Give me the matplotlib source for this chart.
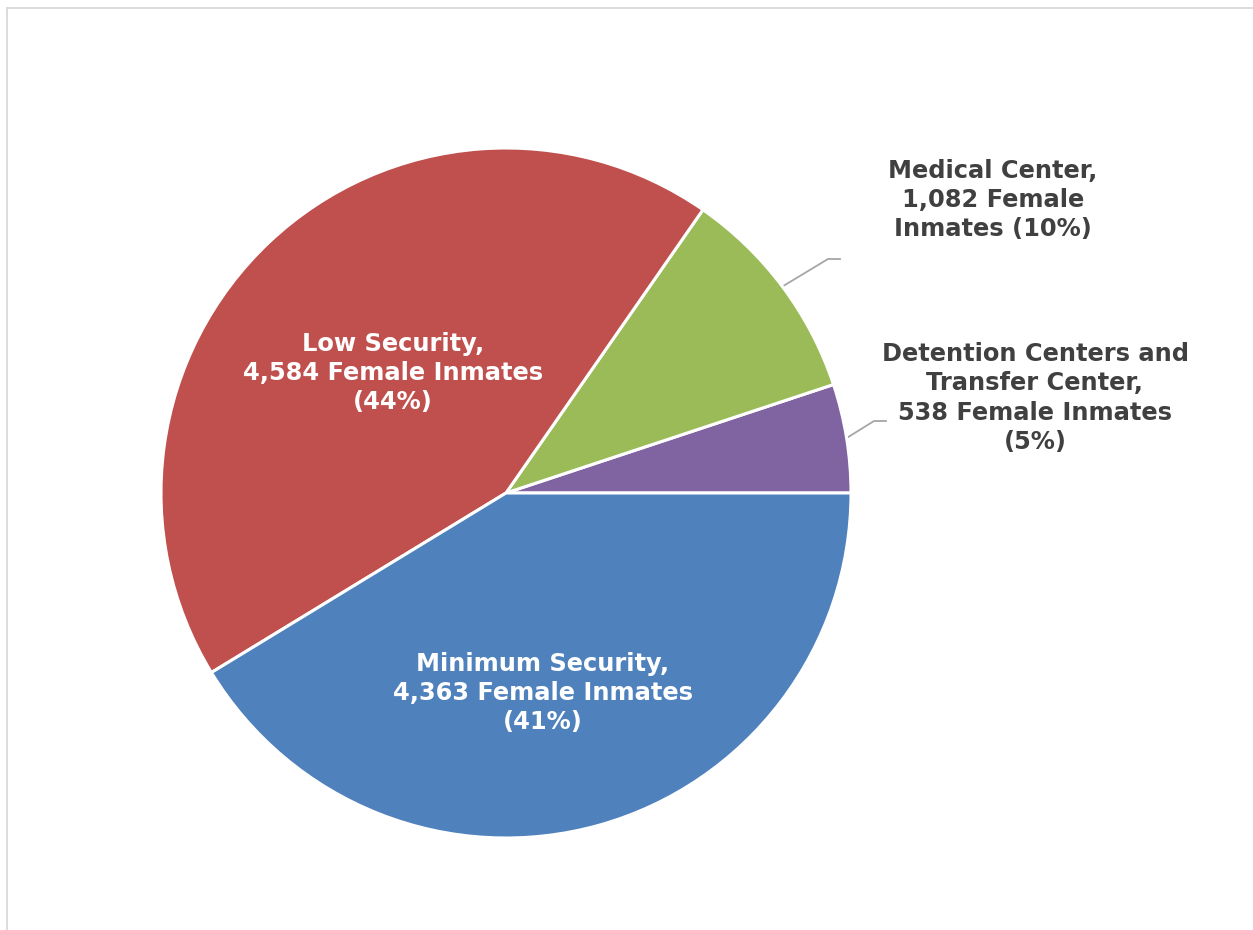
import matplotlib
matplotlib.use("Agg")
import matplotlib.pyplot as plt
import numpy as np

categories = ["Detention Centers and\nTransfer Center", "Medical Center", "Low Security", "Minimum Security"]
values = [538, 1082, 4584, 4363]
percents = ["5%", "10%", "44%", "41%"]
colors = ["#8064A2", "#9BBB59", "#C0504D", "#4F81BD"]

W, H = 1253, 930
fig = plt.figure(figsize=(W / 100, H / 100), dpi=100)
cx, cy, R = 506, 493, 345
ax = fig.add_axes([(cx - R) / W, (H - cy - R) / H, 2 * R / W, 2 * R / H])
wedges, _ = ax.pie(values, colors=colors, startangle=0, counterclock=True, radius=1.0,
                   wedgeprops=dict(edgecolor="white", linewidth=2.2))
ax.set_xlim(-1, 1)
ax.set_ylim(-1, 1)
ax.set_aspect("equal")
ax.axis("off")

def px(x, y):
    return ((x - cx) / R, (cy - y) / R)

fs = 17.4
fam = ["DejaVu Sans"]
labels = [
    "Detention Centers and\nTransfer Center,\n538 Female Inmates\n(5%)",
    "Medical Center,\n1,082 Female\nInmates (10%)",
    "Low Security,\n4,584 Female Inmates\n(44%)",
    "Minimum Security,\n4,363 Female Inmates\n(41%)",
]
# label positions (pixel centers) and text colours
pos = [(1035, 398), (993, 200), (393, 373), (543, 693)]
tcol = ["#404040", "#404040", "white", "white"]
for lab, p, c in zip(labels, pos, tcol):
    x, y = px(*p)
    ax.text(x, y, lab, ha="center", va="center", fontsize=fs, fontweight="bold",
            color=c, family=fam, linespacing=1.28, clip_on=False)

# leader lines for outside labels
elbows = {0: ((874, 421), (886, 421)), 1: ((828, 259), (840, 259))}
for i, (e, end) in elbows.items():
    w = wedges[i]
    mid = np.deg2rad((w.theta1 + w.theta2) / 2)
    sx, sy = np.cos(mid), np.sin(mid)
    ex, ey = px(*e)
    fx, fy = px(*end)
    ax.plot([sx, ex, fx], [sy, ey, fy], color="#A6A6A6", lw=1.3, clip_on=False, zorder=0.5)

# frame border (cropped at right/bottom)
fig.add_artist(plt.Line2D([7 / W, 7 / W], [0, 1 - 8.5 / H], color="#D9D9D9", lw=1.3))
fig.add_artist(plt.Line2D([7 / W, 1], [1 - 8.5 / H, 1 - 8.5 / H], color="#D9D9D9", lw=1.3))

fig.savefig("out.png", dpi=100, facecolor="white")
